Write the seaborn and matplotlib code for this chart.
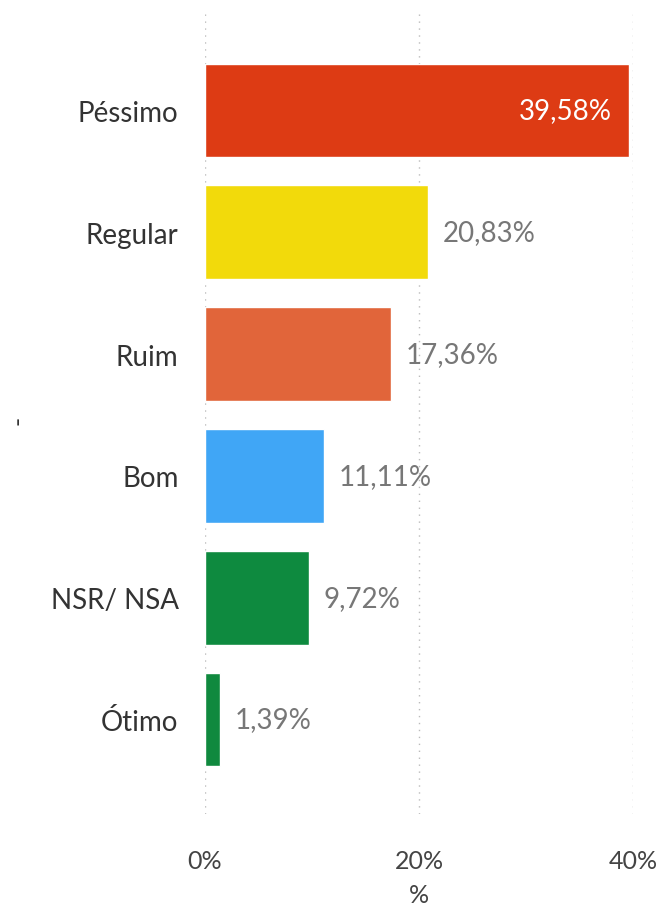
import matplotlib
matplotlib.use("Agg")
import matplotlib.pyplot as plt
import seaborn as sns
import pandas as pd

categories = ["Péssimo", "Regular", "Ruim", "Bom", "NSR/ NSA", "Ótimo"]
values = [39.58, 20.83, 17.36, 11.11, 9.72, 1.39]
labels = ["39,58%", "20,83%", "17,36%", "11,11%", "9,72%", "1,39%"]
colors = ["#DD3B14", "#F2DA0B", "#E1653A", "#40A6F6", "#0E8A3F", "#10893E"]
xticks = [0, 20, 40]
xticklabels = ["0%", "20%", "40%"]

sns.set_theme(style="white")
plt.rcParams["font.family"] = ["Lato", "DejaVu Sans"]

df = pd.DataFrame({"cat": categories, "val": values})

fig = plt.figure(figsize=(6.67, 9.12), dpi=100)
ax = fig.add_axes([205/667, 1-815/912, (633-205)/667, (815-10)/912])

sns.barplot(data=df, x="val", y="cat", hue="cat", palette=colors, order=categories,
            hue_order=categories, legend=False, width=0.77, ax=ax, saturation=1)

ax.set_xlim(0, 40)
ax.set_ylim(5.776, -0.833)
for x in xticks:
    ax.axvline(x, color="#BBBBBB", linestyle=(0, (1, 4)), linewidth=1, zorder=0)

ax.set_xticks(xticks)
ax.set_xticklabels(xticklabels, fontsize=18, color="#444444")
ax.tick_params(axis="x", length=0, pad=25)
ax.tick_params(axis="y", length=0, pad=19, labelsize=20, labelcolor="#333333")
for s in ax.spines.values():
    s.set_visible(False)

ax.set_xlabel("%", fontsize=18, color="#444444", labelpad=8)
ax.set_ylabel("-", fontsize=18, color="#333333")
ax.yaxis.set_label_coords(-0.41, 0.49)

for i, (v, lab) in enumerate(zip(values, labels)):
    if i == 0:
        ax.text(v - 1.6, i, lab, ha="right", va="center", fontsize=20, color="white")
    else:
        ax.text(v + 1.4, i, lab, ha="left", va="center", fontsize=20, color="#777777")

fig.savefig("out.png", dpi=100)
